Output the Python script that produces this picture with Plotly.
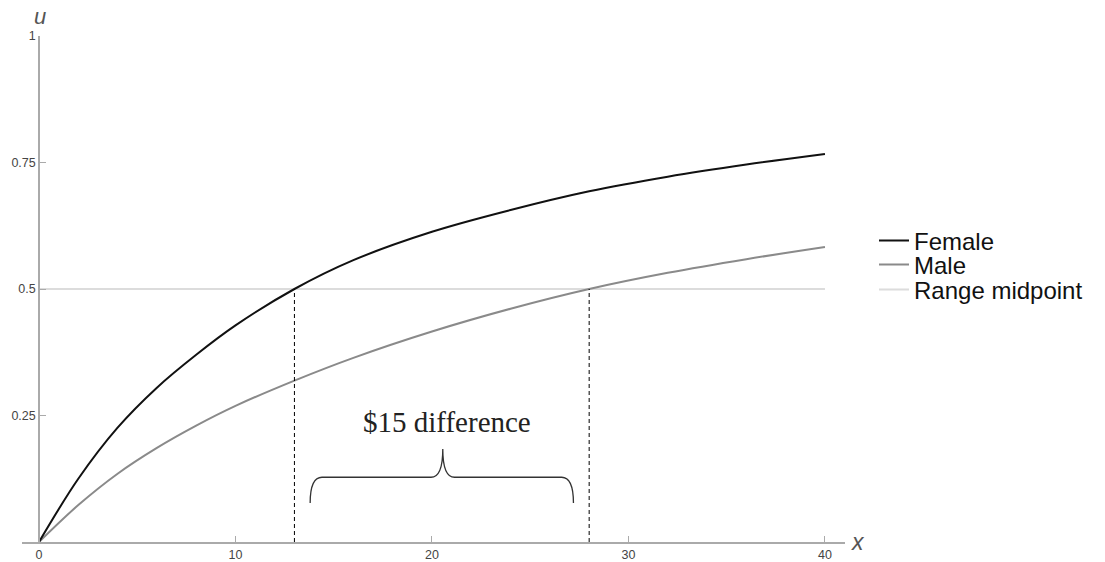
import plotly.graph_objects as go

# ---- data ----
x_vals = [0, 2, 4, 6, 8, 10, 13, 16, 20, 24, 28, 32, 36, 40]
female = [0, 0.125, 0.226, 0.305, 0.37, 0.428, 0.5, 0.557, 0.613, 0.656, 0.693, 0.722, 0.746, 0.767]
male = [0, 0.073, 0.135, 0.186, 0.23, 0.269, 0.319, 0.364, 0.416, 0.461, 0.5, 0.532, 0.559, 0.583]
midpoint_x = [0, 40]
midpoint_y = [0.5, 0.5]
female_cross_x = 13
male_cross_x = 28
cross_y = 0.5

x_ticks = [0, 10, 20, 30, 40]
x_ticklabels = ["0", "10", "20", "30", "40"]
y_ticks = [0.25, 0.5, 0.75, 1]
y_ticklabels = ["0.25", "0.5", "0.75", "1"]

brace_left, brace_mid, brace_right = 13.8, 20.55, 27.2
brace_low, brace_bar, brace_tip = 0.077, 0.128, 0.184
note_text = "$15 difference"

# the page body has an 8px margin, so the figure is sized to fill the rest of the window
W, H = 1097, 554
L, R, T, B = 14, 260, 28, 20
PW, PH = W - L - R, H - T - B
x_range = [-0.865, 41.02]
axis_pos = (0 - x_range[0]) / (x_range[1] - x_range[0])

fig = go.Figure()

fig.add_trace(go.Scatter(x=midpoint_x, y=midpoint_y, mode="lines", name="Range midpoint",
                         line=dict(color="#dcdcdc", width=2), legend="legend3"))
fig.add_trace(go.Scatter(x=x_vals, y=male, mode="lines", name="Male",
                         line=dict(color="#8a8a8a", width=2, shape="spline", smoothing=1.0),
                         legend="legend2"))
fig.add_trace(go.Scatter(x=x_vals, y=female, mode="lines", name="Female",
                         line=dict(color="#111111", width=2, shape="spline", smoothing=1.0),
                         legend="legend"))
for cx in (female_cross_x, male_cross_x):
    fig.add_trace(go.Scatter(x=[cx, cx], y=[0, cross_y], mode="lines", showlegend=False,
                             line=dict(color="#000000", width=1, dash="4px,3px"),
                             hoverinfo="skip"))

# curly brace
d = 0.6
path = (f"M {brace_left},{brace_low} Q {brace_left},{brace_bar} {brace_left + d},{brace_bar} "
        f"L {brace_mid - d},{brace_bar} Q {brace_mid},{brace_bar} {brace_mid},{brace_tip} "
        f"Q {brace_mid},{brace_bar} {brace_mid + d},{brace_bar} "
        f"L {brace_right - d},{brace_bar} Q {brace_right},{brace_bar} {brace_right},{brace_low}")
fig.add_shape(type="path", path=path, xref="x", yref="y",
              line=dict(color="#333333", width=1.3))

fig.add_annotation(x=20.76, y=0.237, xref="x", yref="y", text=note_text, showarrow=False,
                   xanchor="center", yanchor="middle",
                   font=dict(family="Liberation Serif, Times New Roman, serif", size=29,
                             color="#222222"))

axis_label_font = dict(family="Liberation Sans, Arial", size=22, color="#555555")
fig.add_annotation(x=(32 - L) / PW, y=(H - B - 8) / PH, xref="paper", yref="paper",
                   text="<i>u</i>", showarrow=False, xanchor="center", yanchor="middle",
                   font=axis_label_font)
fig.add_annotation(x=1, y=0, xref="paper", yref="y", text="<i>x</i>", showarrow=False,
                   xanchor="left", yanchor="middle", xshift=4,
                   font=dict(family="Liberation Sans, Arial", size=23, color="#555555"))

tick_font = dict(family="Liberation Sans, Arial", size=12.5, color="#444444")

fig.update_layout(
    width=W, height=H,
    margin=dict(l=L, r=R, t=T, b=B, autoexpand=False),
    paper_bgcolor="white", plot_bgcolor="white",
    xaxis=dict(range=x_range, showgrid=False, zeroline=False, showline=True,
               linecolor="#aaaaaa", linewidth=1.5, ticks="inside", ticklen=6,
               tickcolor="#aaaaaa", tickwidth=1, tickvals=x_ticks, ticktext=x_ticklabels,
               tickfont=tick_font, anchor="y", automargin=False),
    yaxis=dict(range=[0, 1], showgrid=False, zeroline=False, showline=True,
               linecolor="#aaaaaa", linewidth=1.5, ticks="inside", ticklen=6,
               tickcolor="#aaaaaa", tickwidth=1, tickvals=y_ticks, ticktext=y_ticklabels,
               tickfont=tick_font, anchor="free", position=axis_pos, automargin=False),
    showlegend=True,
)

leg_font = dict(family="Liberation Sans, Arial", size=24, color="#111111")
for name, yc in (("legend", 233), ("legend2", 257), ("legend3", 282)):
    fig.layout[name] = dict(x=866 / W, y=1 - yc / H, xref="container", yref="container",
                            xanchor="left", yanchor="middle", font=leg_font,
                            bgcolor="rgba(0,0,0,0)", borderwidth=0, itemwidth=30)

fig.write_html("out.html")
